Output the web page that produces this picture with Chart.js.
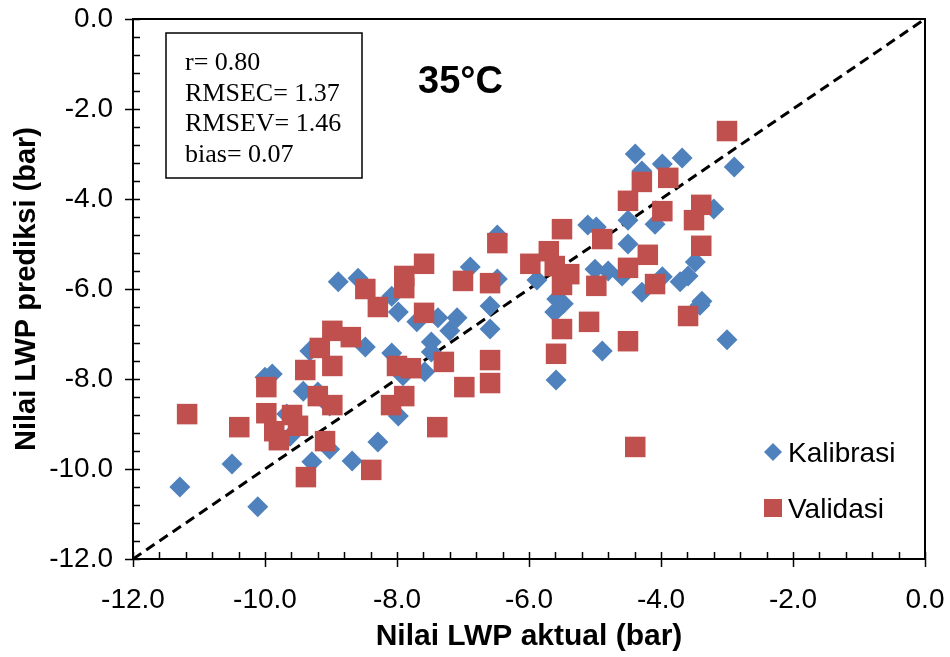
<!DOCTYPE html>
<html>
<head>
<meta charset="utf-8">
<title>LWP 35°C</title>
<script src="https://cdn.jsdelivr.net/npm/chart.js@4.4.0/dist/chart.umd.min.js"></script>
<style>
    html, body { margin: 0; padding: 0; background: #fff; }
    #wrap { width: 950px; height: 657px; }
</style>
</head>
<body>
<div id="wrap"><canvas id="lwpChart" width="950" height="657"></canvas></div>
<script>
// Kalibrasi (blue diamonds)
const kalibrasiX = [-11.29, -10.50, -10.11, -10.00, -9.89, -8.89, -8.59, -8.08, -7.98, -7.70,
    -7.38, -7.09, -7.20, -7.48, -7.48, -8.48, -8.08, -7.91, -7.58, -7.98,
    -8.29, -8.68, -9.29, -9.02, -9.42, -9.20, -9.67, -9.32, -9.02, -9.62,
    -6.89, -6.48, -6.59, -6.59, -5.88, -5.58, -5.48, -5.61, -5.59, -5.00,
    -4.80, -4.59, -4.29, -4.89, -5.11, -4.98, -4.50, -4.09, -4.50, -4.39,
    -3.98, -3.68, -2.89, -4.29, -3.20, -3.48, -3.59, -3.71, -3.98, -3.38,
    -3.41, -3.00, -6.48];
const kalibrasiY = [-10.40, -9.89, -10.84, -7.96, -7.89, -5.84, -5.76, -6.16, -6.51, -6.73,
    -6.64, -6.64, -6.93, -7.18, -7.40, -7.29, -7.42, -7.93, -7.84, -8.82,
    -9.40, -9.82, -9.84, -9.56, -8.27, -8.29, -8.78, -7.38, -8.60, -9.27,
    -5.51, -4.80, -6.38, -6.89, -5.80, -6.22, -6.33, -6.51, -8.02, -5.56,
    -5.60, -5.71, -6.07, -7.38, -4.58, -4.62, -4.47, -4.56, -5.00, -3.00,
    -3.22, -3.09, -3.29, -3.38, -4.22, -5.40, -5.71, -5.84, -5.73, -6.27,
    -6.36, -7.13, -5.78];

// Validasi (red squares)
const validasiX = [-11.18, -10.39, -9.98, -9.98, -9.86, -9.79, -9.59, -9.50, -9.39, -9.38,
    -9.20, -8.98, -9.09, -9.17, -8.98, -8.98, -8.70, -8.48, -8.29, -7.89,
    -7.89, -7.59, -7.59, -8.00, -7.79, -7.29, -6.98, -6.59, -6.59, -7.89,
    -8.09, -7.39, -8.39, -7.00, -6.59, -5.98, -6.48, -5.70, -5.50, -5.61,
    -5.39, -5.50, -4.98, -4.89, -4.50, -4.20, -4.09, -4.50, -4.29, -3.89,
    -3.98, -3.39, -3.50, -3.39, -3.00, -3.59, -5.09, -5.50, -5.59, -4.50,
    -4.39];
const validasiY = [-8.78, -9.07, -8.18, -8.76, -9.16, -9.36, -8.80, -9.04, -7.80, -10.18,
    -8.38, -8.58, -9.38, -7.31, -6.93, -7.71, -7.07, -6.00, -6.40, -5.71,
    -5.98, -5.44, -6.53, -7.71, -7.76, -7.62, -8.18, -7.58, -8.09, -8.38,
    -8.58, -9.07, -10.02, -5.82, -5.87, -5.44, -4.98, -5.16, -4.67, -5.49,
    -5.67, -5.91, -5.93, -4.89, -5.53, -5.24, -5.89, -4.04, -3.62, -3.53,
    -4.27, -4.13, -4.47, -5.04, -2.49, -6.60, -6.73, -6.89, -7.44, -7.16,
    -9.51];

// 1:1 line
const garisX = [-12, 0];
const garisY = [-12, 0];

const xMin = -12, xMax = 0, yMin = -12, yMax = 0;
const majorStep = 2;
const minorStep = 0.4;

const statLines = ['r= 0.80', 'RMSEC= 1.37', 'RMSEV= 1.46', 'bias= 0.07'];
const suhuLabel = '35°C';
const seriesNames = ['Kalibrasi', 'Validasi'];

const biru = '#4F81BD';
const merah = '#C0504D';

function toPoints(xs, ys) {
    return xs.map((x, i) => ({ x: x, y: ys[i] }));
}

// ticks, frame, stats box, title text and legend
const decorPlugin = {
    id: 'decor',
    afterDraw(chart) {
        const { ctx, chartArea: a, scales: { x, y } } = chart;
        ctx.save();
        ctx.strokeStyle = '#000';

        // top / right frame
        ctx.lineWidth = 2;
        ctx.beginPath();
        ctx.moveTo(a.left, a.top);
        ctx.lineTo(a.right, a.top);
        ctx.lineTo(a.right, a.bottom);
        ctx.stroke();

        // tick marks
        ctx.lineWidth = 1.5;
        const nMinor = Math.round((xMax - xMin) / minorStep);
        ctx.beginPath();
        for (let i = 0; i <= nMinor; i++) {
            const v = xMin + i * minorStep;
            const major = Math.abs(v / majorStep - Math.round(v / majorStep)) < 1e-6;
            const px = Math.round(x.getPixelForValue(v)) + 0.5;
            ctx.moveTo(px, a.bottom - 7);
            ctx.lineTo(px, a.bottom + (major ? 8 : 0));
            const vy = yMin + i * minorStep;
            const py = Math.round(y.getPixelForValue(vy)) + 0.5;
            ctx.moveTo(a.left + 7, py);
            ctx.lineTo(a.left - (major ? 8 : 0), py);
        }
        ctx.stroke();

        // stats box
        const bx = a.left + 33, by = a.top + 14;
        ctx.lineWidth = 1.5;
        ctx.strokeRect(bx, by, 196, 145);
        ctx.fillStyle = '#000';
        ctx.font = '26px "Liberation Serif", "Times New Roman", serif';
        ctx.textAlign = 'left';
        ctx.textBaseline = 'alphabetic';
        statLines.forEach((t, i) => {
            ctx.fillText(t, bx + 19, by + 37 + i * 30.5);
        });

        // temperature label
        ctx.font = 'bold 38px "Liberation Sans", Arial, sans-serif';
        ctx.fillText(suhuLabel, a.left + 285, a.top + 74);

        // legend
        const lx = a.left + 640;
        ctx.font = '28px "Liberation Sans", Arial, sans-serif';
        ctx.fillStyle = biru;
        ctx.beginPath();
        ctx.moveTo(lx - 9, a.top + 433);
        ctx.lineTo(lx, a.top + 424);
        ctx.lineTo(lx + 9, a.top + 433);
        ctx.lineTo(lx, a.top + 442);
        ctx.closePath();
        ctx.fill();
        ctx.fillStyle = '#000';
        ctx.fillText(seriesNames[0], lx + 15, a.top + 443);
        ctx.fillStyle = merah;
        ctx.fillRect(lx - 9, a.top + 480, 18, 18);
        ctx.fillStyle = '#000';
        ctx.fillText(seriesNames[1], lx + 15, a.top + 499);

        ctx.restore();
    }
};

new Chart(document.getElementById('lwpChart').getContext('2d'), {
    type: 'scatter',
    data: {
        datasets: [{
            label: seriesNames[0],
            data: toPoints(kalibrasiX, kalibrasiY),
            pointStyle: 'rectRot',
            pointRadius: 10.5,
            pointHoverRadius: 10.5,
            backgroundColor: biru,
            borderColor: biru,
            borderWidth: 0,
            order: 2
        }, {
            label: seriesNames[1],
            data: toPoints(validasiX, validasiY),
            pointStyle: 'rect',
            pointRadius: 14.5,
            pointHoverRadius: 14.5,
            backgroundColor: merah,
            borderColor: merah,
            borderWidth: 0,
            order: 1
        }, {
            type: 'line',
            label: '1:1',
            data: toPoints(garisX, garisY),
            borderColor: '#000',
            borderWidth: 3,
            borderDash: [10, 6],
            pointRadius: 0,
            fill: false,
            order: 3
        }]
    },
    options: {
        responsive: false,
        animation: false,
        layout: { padding: { top: 19, right: 25, left: 0, bottom: 0 } },
        plugins: {
            legend: { display: false },
            tooltip: { enabled: false }
        },
        scales: {
            x: {
                type: 'linear',
                min: xMin,
                max: xMax,
                afterFit: s => { s.height = 98; s.paddingLeft = 0; s.paddingRight = 0; },
                grid: { display: false, drawTicks: false },
                border: { display: true, color: '#000', width: 2 },
                ticks: {
                    stepSize: majorStep,
                    padding: 24,
                    color: '#000',
                    font: { family: '"Liberation Sans", Arial, sans-serif', size: 28 },
                    callback: v => v.toFixed(1)
                },
                title: {
                    display: true,
                    text: 'Nilai LWP aktual (bar)',
                    color: '#000',
                    padding: { top: 0, bottom: 2 },
                    font: { family: '"Liberation Sans", Arial, sans-serif', size: 30, weight: 'bold' }
                }
            },
            y: {
                type: 'linear',
                min: yMin,
                max: yMax,
                afterFit: s => { s.width = 133; s.paddingTop = 0; s.paddingBottom = 0; },
                grid: { display: false, drawTicks: false },
                border: { display: true, color: '#000', width: 2 },
                ticks: {
                    stepSize: majorStep,
                    padding: 20,
                    color: '#000',
                    font: { family: '"Liberation Sans", Arial, sans-serif', size: 28 },
                    callback: v => v.toFixed(1)
                },
                title: {
                    display: true,
                    text: 'Nilai LWP prediksi (bar)',
                    color: '#000',
                    padding: { top: 10, bottom: 0 },
                    font: { family: '"Liberation Sans", Arial, sans-serif', size: 29, weight: 'bold' }
                }
            }
        }
    },
    plugins: [decorPlugin]
});
</script>
</body>
</html>
